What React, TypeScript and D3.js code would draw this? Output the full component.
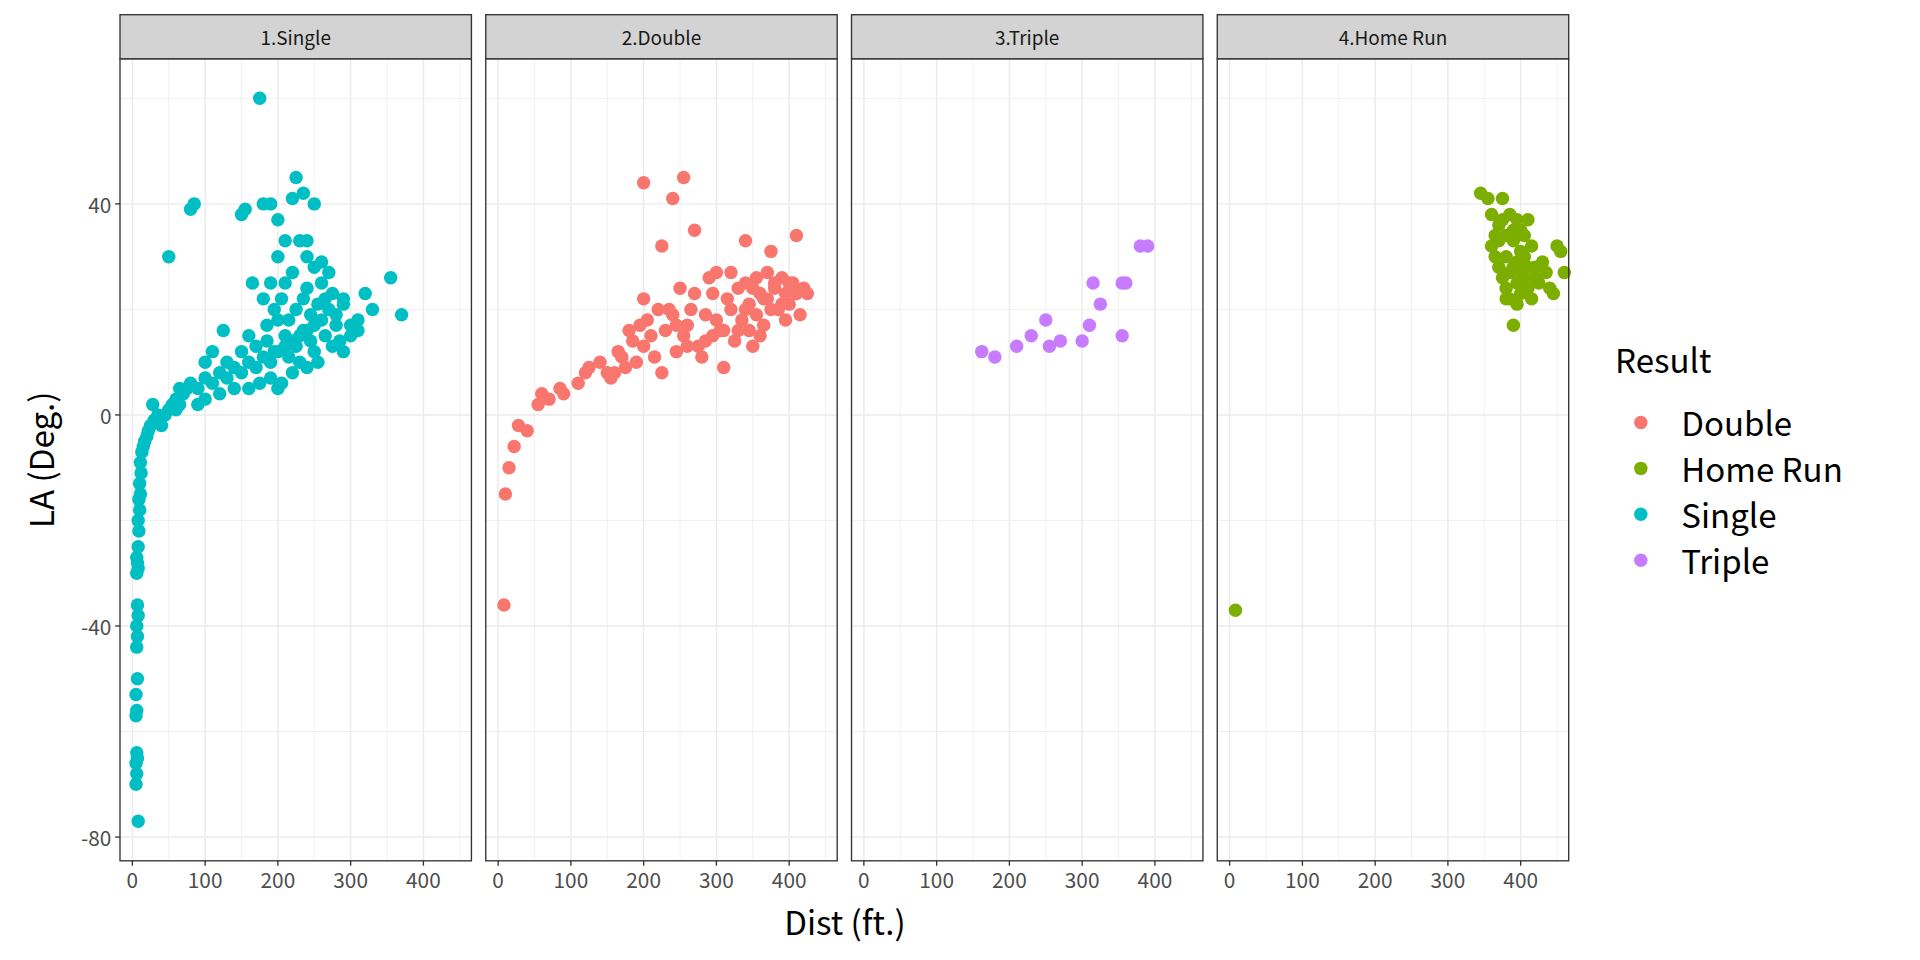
import * as d3 from "d3";
import React from "react";

const panels = ["1.Single", "2.Double", "3.Triple", "4.Home Run"];
const results = ["Double", "Home Run", "Single", "Triple"];
const colors = ["#F8766D", "#7CAE00", "#00BFC4", "#C77CFF"];
const xTicks = [0, 100, 200, 300, 400];
const yTicks = [-80, -40, 0, 40];

// [dist, la]
const single: [number, number][] = [
  [8, -77], [5, -70], [6, -68], [5, -66], [7, -65], [6, -64], [5, -57], [6, -56], [5, -53], [7, -50],
  [6, -44], [7, -42], [6, -40], [8, -38], [7, -36], [6, -30], [8, -29], [7, -28], [6, -27], [8, -25],
  [9, -22], [8, -20], [10, -18], [9, -16], [11, -15], [10, -13], [12, -11], [11, -9], [13, -7], [15, -6],
  [17, -5], [20, -4], [22, -3], [25, -2], [30, -1], [35, 0], [40, -2], [28, 2], [45, 0], [50, 1],
  [55, 2], [60, 3], [65, 2], [70, 4], [75, 5], [80, 6], [90, 5], [100, 7], [110, 6], [120, 8],
  [130, 7], [140, 9], [150, 8], [160, 10], [170, 9], [180, 11], [190, 10], [200, 12], [210, 13], [220, 14],
  [230, 15], [240, 16], [250, 17], [260, 18], [270, 20], [280, 19], [290, 21], [300, 17], [310, 18], [320, 23],
  [330, 20], [355, 26], [370, 19], [50, 30], [80, 39], [85, 40], [150, 38], [155, 39], [175, 60], [180, 40],
  [190, 40], [200, 37], [220, 41], [225, 45], [235, 42], [250, 40], [210, 33], [230, 33], [240, 33], [200, 30],
  [260, 29], [210, 25], [220, 27], [240, 24], [250, 28], [265, 22], [275, 23], [290, 22], [300, 15], [310, 16],
  [125, 16], [130, 10], [150, 12], [160, 15], [170, 13], [185, 17], [195, 20], [205, 22], [215, 18], [225, 20],
  [235, 22], [245, 19], [255, 21], [265, 15], [275, 13], [285, 14], [160, 5], [175, 6], [190, 7], [205, 6],
  [220, 8], [240, 9], [255, 10], [200, 5], [140, 5], [120, 4], [100, 3], [90, 2], [60, 1], [65, 5],
  [100, 10], [110, 12], [180, 22], [190, 25], [200, 18], [210, 15], [230, 10], [250, 12], [260, 25], [270, 27],
  [280, 17], [290, 12], [185, 14], [195, 12], [215, 11], [225, 13], [235, 16], [245, 14], [165, 25], [240, 30],
];
const double: [number, number][] = [
  [8, -36], [10, -15], [15, -10], [22, -6], [28, -2], [40, -3], [55, 2], [60, 4], [70, 3], [85, 5],
  [90, 4], [110, 6], [120, 8], [125, 9], [140, 10], [155, 7], [160, 8], [170, 11], [175, 9], [180, 16],
  [185, 14], [190, 10], [200, 13], [200, 22], [205, 18], [210, 15], [215, 11], [220, 20], [225, 8], [225, 32],
  [230, 16], [240, 19], [245, 12], [250, 24], [255, 15], [260, 17], [265, 20], [270, 35], [275, 13], [280, 11],
  [285, 19], [290, 26], [295, 15], [300, 18], [305, 16], [310, 9], [315, 22], [320, 20], [325, 14], [330, 16],
  [335, 18], [340, 25], [345, 21], [350, 13], [355, 19], [360, 23], [365, 17], [370, 22], [375, 31], [380, 24],
  [385, 20], [390, 26], [395, 18], [400, 21], [405, 25], [410, 23], [415, 19], [420, 24], [425, 23], [200, 44],
  [240, 41], [255, 45], [340, 33], [410, 34], [370, 27], [350, 24], [360, 15], [380, 25], [300, 27], [320, 27],
  [330, 24], [340, 20], [390, 21], [400, 25], [150, 8], [165, 12], [195, 17], [235, 20], [245, 17], [260, 13],
  [270, 23], [285, 14], [295, 23], [310, 16], [345, 16], [355, 26], [365, 22], [375, 20], [395, 23],
];
const triple: [number, number][] = [
  [162, 12], [180, 11], [210, 13], [230, 15], [250, 18], [255, 13], [270, 14], [300, 14], [310, 17], [315, 25],
  [325, 21], [355, 15], [355, 25], [360, 25], [380, 32], [390, 32],
];
const homeRun: [number, number][] = [
  [8, -37], [345, 42], [355, 41], [360, 38], [370, 36], [375, 41], [380, 34], [385, 38], [390, 33], [395, 37],
  [400, 35], [405, 30], [410, 37], [415, 32], [420, 28], [425, 25], [430, 29], [435, 27], [440, 24], [445, 23],
  [450, 32], [455, 31], [460, 27], [365, 30], [370, 28], [375, 26], [380, 24], [385, 22], [390, 17], [395, 21],
  [400, 23], [405, 26], [410, 24], [415, 22], [420, 26], [370, 33], [380, 30], [390, 28], [400, 31], [410, 28],
  [385, 27], [395, 25], [375, 37], [365, 34], [390, 35], [400, 27], [380, 22], [360, 32], [395, 29], [405, 34],
];
const panelData = [single, double, triple, homeRun];
const panelColor = [colors[2], colors[0], colors[3], colors[1]];

const font = "'Noto Sans CJK JP', 'Noto Sans', sans-serif";

export default function App() {
  const W = 1568, H = 784;
  const top = 48, bottom = 703;
  const pw = 287, gap = 11.7, left0 = 98;
  const x = d3.scaleLinear().domain([-17, 466]).range([0, pw]);
  const y = d3.scaleLinear().domain([-84.5, 67.5]).range([bottom, top]);
  const xMinor = [50, 150, 250, 350, 450];
  const yMinor = [-60, -20, 20, 60];
  return (
    <svg width={1920} height={960} viewBox={`0 0 ${W} ${H}`}
      style={{ position: "absolute", left: 0, top: 0, background: "#fff" }} fontFamily={font}>
      {panels.map((p, i) => {
        const ox = left0 + i * (pw + gap);
        return (
          <g key={p} transform={`translate(${ox},0)`}>
            <rect x={0} y={top} width={pw} height={bottom - top} fill="#fff" />
            {yMinor.map((t) => <line key={"ym" + t} x1={0} x2={pw} y1={y(t)} y2={y(t)} stroke="#EBEBEB" strokeWidth={0.6} />)}
            {xMinor.map((t) => <line key={"xm" + t} x1={x(t)} x2={x(t)} y1={top} y2={bottom} stroke="#EBEBEB" strokeWidth={0.6} />)}
            {yTicks.map((t) => <line key={"y" + t} x1={0} x2={pw} y1={y(t)} y2={y(t)} stroke="#EBEBEB" strokeWidth={1.2} />)}
            {xTicks.map((t) => <line key={"x" + t} x1={x(t)} x2={x(t)} y1={top} y2={bottom} stroke="#EBEBEB" strokeWidth={1.2} />)}
            {panelData[i].map((d, j) => (
              <circle key={j} cx={x(d[0])} cy={y(d[1])} r={5.5} fill={panelColor[i]} />
            ))}
            <rect x={0} y={top} width={pw} height={bottom - top} fill="none" stroke="#333" strokeWidth={1.1} />
            <rect x={0} y={12} width={pw} height={top - 12} fill="#D3D3D3" stroke="#333" strokeWidth={1.1} />
            <text x={pw / 2} y={30} textAnchor="middle" dominantBaseline="central" fontSize={15.5} fill="#1A1A1A">{p}</text>
            {xTicks.map((t) => (
              <g key={"xt" + t}>
                <line x1={x(t)} x2={x(t)} y1={bottom} y2={bottom + 4} stroke="#333" strokeWidth={1.1} />
                <text x={x(t)} y={718} textAnchor="middle" dominantBaseline="central" fontSize={17} fill="#4D4D4D">{t}</text>
              </g>
            ))}
          </g>
        );
      })}
      {yTicks.map((t) => (
        <g key={"yt" + t}>
          <line x1={left0 - 4} x2={left0} y1={y(t)} y2={y(t)} stroke="#333" strokeWidth={1.1} />
          <text x={left0 - 7} y={y(t)} textAnchor="end" dominantBaseline="central" fontSize={17} fill="#4D4D4D">{t}</text>
        </g>
      ))}
      <text x={690} y={752} textAnchor="middle" dominantBaseline="central" fontSize={27} fill="#000">Dist (ft.)</text>
      <text transform={`translate(33,${(top + bottom) / 2}) rotate(-90)`} textAnchor="middle" dominantBaseline="central" fontSize={27} fill="#000">LA (Deg.)</text>
      <text x={1319} y={293} dominantBaseline="central" fontSize={27} fill="#000">Result</text>
      {results.map((r, i) => (
        <g key={r}>
          <circle cx={1340} cy={345 + i * 37.5} r={5.5} fill={colors[i]} />
          <text x={1373} y={345 + i * 37.5} dominantBaseline="central" fontSize={27} fill="#000">{r}</text>
        </g>
      ))}
    </svg>
  );
}
